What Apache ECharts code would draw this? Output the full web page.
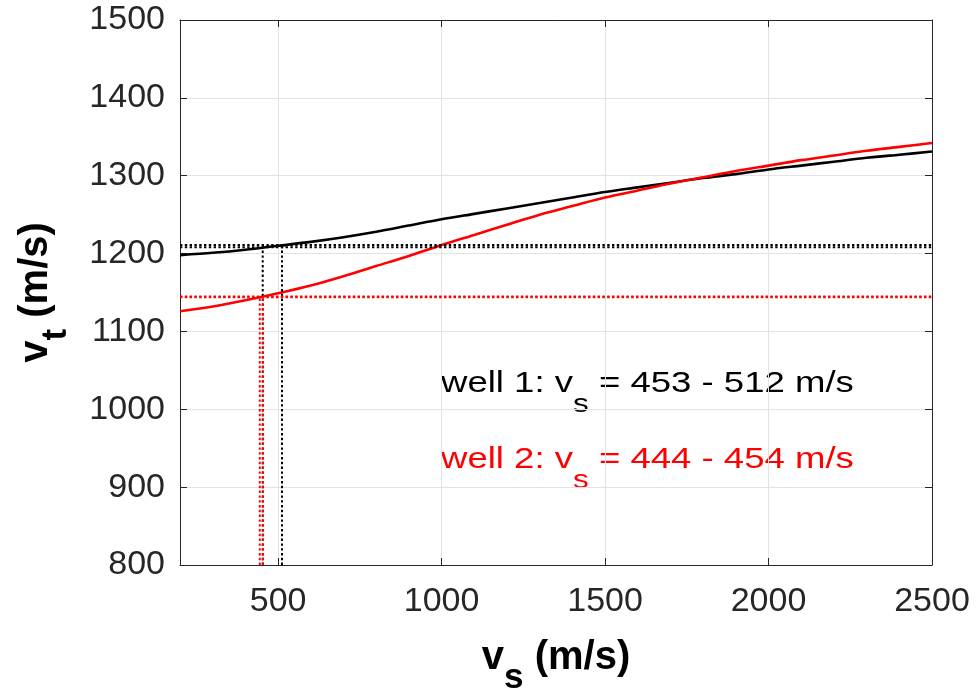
<!DOCTYPE html>
<html>
<head>
<meta charset="utf-8">
<script src="https://cdn.jsdelivr.net/npm/echarts@6/dist/echarts.min.js"></script>
<style>
html, body { margin: 0; padding: 0; background: #fff; }
#chart { width: 980px; height: 689px; }
</style>
</head>
<body>
<div id="chart"></div>
<script>
// shear wave velocity (x) and transition velocity for two wells
const vs = [200, 300, 400, 500, 600, 700, 800, 900, 1000, 1100, 1200, 1300,
    1400, 1500, 1600, 1700, 1800, 1900, 2000, 2100, 2200, 2300, 2400, 2500]
const well1Vt = [1198, 1201, 1205, 1210, 1215, 1221, 1228, 1236, 1244, 1251, 1258, 1265,
    1272, 1279, 1285, 1291, 1297, 1302, 1308, 1313, 1318, 1323, 1327, 1331]
const well2Vt = [1126, 1132, 1140, 1149, 1159, 1171, 1184, 1197, 1211, 1224, 1237, 1250,
    1261, 1272, 1281, 1290, 1298, 1306, 1313, 1320, 1326, 1332, 1337, 1342]

// measured ranges and the matching vt values
const well1Range = [453, 512]
const well1Cross = [1208, 1211]
const well2Range = [444, 454]
const well2Cross = [1144, 1145]

const xTicks = [500, 1000, 1500, 2000, 2500]
const xMin = 200, xMax = 2500
const yMin = 800, yMax = 1500, yStep = 100

const tickColor = '#262626'
const gridColor = '#e3e3e3'
const font = '"Liberation Sans", Arial, sans-serif'

const toPairs = (xs, ys) => xs.map((x, i) => [x, ys[i]])

const dotted = color => ({
    type: 'line',
    symbol: 'none',
    silent: true,
    lineStyle: { color: color, width: 2, type: [2.4, 2.4] },
    z: 3
})

const refLines = (range, cross, color) => {
    let out = []
    range.forEach((v, i) => {
        out.push(Object.assign(dotted(color), { data: [[v, yMin], [v, cross[i]]] }))
        out.push(Object.assign(dotted(color), { data: [[xMin, cross[i]], [xMax, cross[i]]] }))
    })
    return out
}

const subRich = size => ({
    b: { fontSize: size, fontWeight: 'bold', fontFamily: font, color: '#000', verticalAlign: 'bottom', padding: [0, 0, 18, 0] },
    sub: { fontSize: size * 0.88, fontWeight: 'bold', fontFamily: font, color: '#000', verticalAlign: 'bottom' }
})

const noteRich = (color) => ({
    a: { fontSize: 29, fontFamily: font, fill: color, verticalAlign: 'bottom', padding: [0, 0, 20, 0] },
    s: { fontSize: 25, fontFamily: font, fill: color, verticalAlign: 'bottom' }
})

const chart = echarts.init(document.getElementById('chart'))

const option = {
    backgroundColor: '#fff',
    animation: false,
    grid: { left: 180, right: 48, top: 20, bottom: 124, show: false, outerBoundsMode: 'none', containLabel: false },
    xAxis: [{
        type: 'value',
        min: xMin,
        max: xMax,
        name: '{b|v}{sub|s}{b| (m/s)}',
        nameLocation: 'middle',
        nameGap: 73,
        nameTextStyle: { rich: subRich(40) },
        axisLine: { show: true, lineStyle: { color: tickColor, width: 1 } },
        axisTick: { show: true, inside: true, length: 7, customValues: xTicks, lineStyle: { color: tickColor } },
        axisLabel: { customValues: xTicks, color: tickColor, fontSize: 34, fontFamily: font, margin: 20, formatter: v => String(v) },
        splitLine: { show: true, lineStyle: { color: gridColor, width: 1 } }
    }, {
        type: 'value',
        position: 'top',
        min: xMin,
        max: xMax,
        axisLine: { show: true, lineStyle: { color: tickColor, width: 1 } },
        axisTick: { show: true, inside: true, length: 7, customValues: xTicks, lineStyle: { color: tickColor } },
        axisLabel: { show: false },
        splitLine: { show: false }
    }],
    yAxis: [{
        type: 'value',
        min: yMin,
        max: yMax,
        interval: yStep,
        name: '{b|v}{sub|t}{b| (m/s)}',
        nameLocation: 'middle',
        nameRotate: 90,
        nameGap: 106,
        nameTextStyle: { rich: subRich(40) },
        axisLine: { show: true, lineStyle: { color: tickColor, width: 1 } },
        axisTick: { show: true, inside: true, length: 7, lineStyle: { color: tickColor } },
        axisLabel: { color: tickColor, fontSize: 34, fontFamily: font, margin: 15, formatter: v => String(v) },
        splitLine: { show: true, lineStyle: { color: gridColor, width: 1 } }
    }, {
        type: 'value',
        position: 'right',
        min: yMin,
        max: yMax,
        interval: yStep,
        axisLine: { show: true, lineStyle: { color: tickColor, width: 1 } },
        axisTick: { show: true, inside: true, length: 7, lineStyle: { color: tickColor } },
        axisLabel: { show: false },
        splitLine: { show: false }
    }],
    graphic: [{
        type: 'text',
        x: 441,
        y: 369,
        scaleX: 1.26,
        style: {
            text: '{a|well 1: v}{s|s}{a| = 453 - 512 m/s}',
            rich: noteRich('#000')
        }
    }, {
        type: 'text',
        x: 441,
        y: 445,
        scaleX: 1.26,
        style: {
            text: '{a|well 2: v}{s|s}{a| = 444 - 454 m/s}',
            rich: noteRich('#ff0000')
        }
    }],
    series: [{
        name: 'well 1',
        type: 'line',
        smooth: 0.3,
        symbol: 'none',
        lineStyle: { color: '#000', width: 2.6 },
        data: toPairs(vs, well1Vt),
        z: 2
    }, {
        name: 'well 2',
        type: 'line',
        smooth: 0.3,
        symbol: 'none',
        lineStyle: { color: '#ff0000', width: 2.6 },
        data: toPairs(vs, well2Vt),
        z: 2
    }]
        .concat(refLines(well1Range, well1Cross, '#000'))
        .concat(refLines(well2Range, well2Cross, '#ff0000'))
}

chart.setOption(option)
</script>
</body>
</html>
